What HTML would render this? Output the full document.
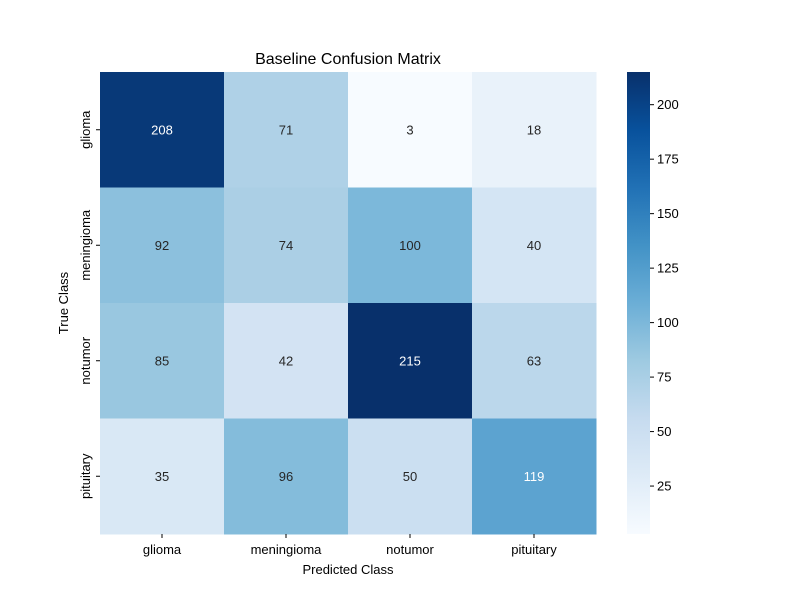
<!DOCTYPE html>
<html><head><meta charset="utf-8"><style>body{margin:0;background:#fff}svg{display:block;font-family:"Liberation Sans","DejaVu Sans",sans-serif}</style></head>
<body>
<svg id="chart" width="800" height="600">
<rect width="800" height="600" fill="#fff"/>
<text x="348" y="64" font-size="16" text-anchor="middle">Baseline Confusion Matrix</text>
<text x="348" y="574" font-size="13" text-anchor="middle">Predicted Class</text>
<text transform="translate(68,303) rotate(-90)" font-size="13" text-anchor="middle">True Class</text>
<g id="cells"></g><g id="cbar"></g>
</svg>
<script>
const classes=["glioma","meningioma","notumor","pituitary"];
const matrix=[[208,71,3,18],[92,74,100,40],[85,42,215,63],[35,96,50,119]];
const cbarTicks=[25,50,75,100,125,150,175,200];
const vmin=3,vmax=215;
const X0=100,Y0=72,W=496,H=462;
const stops=["#f7fbff","#deebf7","#c6dbef","#9ecae1","#6baed6","#4292c6","#2171b5","#08519c","#08306b"].map(h=>[1,3,5].map(i=>parseInt(h.substr(i,2),16)));
function cmap(v){let t=Math.max(0,Math.min(1,(v-vmin)/(vmax-vmin)))*(stops.length-1);let i=Math.min(Math.floor(t),stops.length-2),f=t-i;return stops[i].map((c,k)=>Math.round(c+(stops[i+1][k]-c)*f));}
function lum(c){const l=c.map(x=>{x/=255;return x<=0.03928?x/12.92:Math.pow((x+0.055)/1.055,2.4)});return .2126*l[0]+.7152*l[1]+.0722*l[2];}
const NS="http://www.w3.org/2000/svg";
function el(tag,a,p){const e=document.createElementNS(NS,tag);for(const k in a)e.setAttribute(k,a[k]);p.appendChild(e);return e;}
const n=classes.length,cw=W/n,ch=H/n;
const g=document.getElementById('cells');
matrix.forEach((row,r)=>row.forEach((v,c)=>{
 const col=cmap(v);
 const rc=el('rect',{x:X0+c*cw,y:Y0+r*ch,width:cw+0.5,height:ch+0.5,fill:`rgb(${col})`},g);
 
 
 const t=el('text',{x:X0+(c+.5)*cw,y:Y0+(r+.5)*ch+4.5,'font-size':13,'text-anchor':'middle',fill:lum(col)>.408?'#262626':'#fff'},g);
 t.textContent=v;
 
 
}));
classes.forEach((cl,i)=>{
 const x=X0+(i+.5)*cw;
 el('line',{x1:x,x2:x,y1:Y0+H,y2:Y0+H+4,stroke:'#000'},g);
 const t=el('text',{x:x,y:Y0+H+20,'font-size':13,'text-anchor':'middle'},g);t.textContent=cl;
 
 
 const y=Y0+(i+.5)*ch;
 el('line',{x1:X0-4,x2:X0,y1:y,y2:y,stroke:'#000'},g);
 const u=el('text',{transform:`translate(${X0-10},${y}) rotate(-90)`,'font-size':13,'text-anchor':'middle'},g);u.textContent=cl;
 
 
});
const cb=document.getElementById('cbar');
const CX=627,CW=23;
const defs=el('defs',{},cb);
const lg=el('linearGradient',{id:'gr',x1:0,y1:1,x2:0,y2:0},defs);
stops.forEach((s,i)=>el('stop',{offset:i/(stops.length-1),'stop-color':`rgb(${s})`},lg));
const cr=el('rect',{x:CX,y:Y0,width:CW,height:H,fill:'url(#gr)'},cb);


cbarTicks.forEach(v=>{
 const y=Y0+H-(v-vmin)/(vmax-vmin)*H;
 el('line',{x1:CX+CW,x2:CX+CW+4,y1:y,y2:y,stroke:'#000'},cb);
 const t=el('text',{x:CX+CW+7,y:y+4.5,'font-size':13},cb);t.textContent=v;
 
 
});
</script>
</body></html>
